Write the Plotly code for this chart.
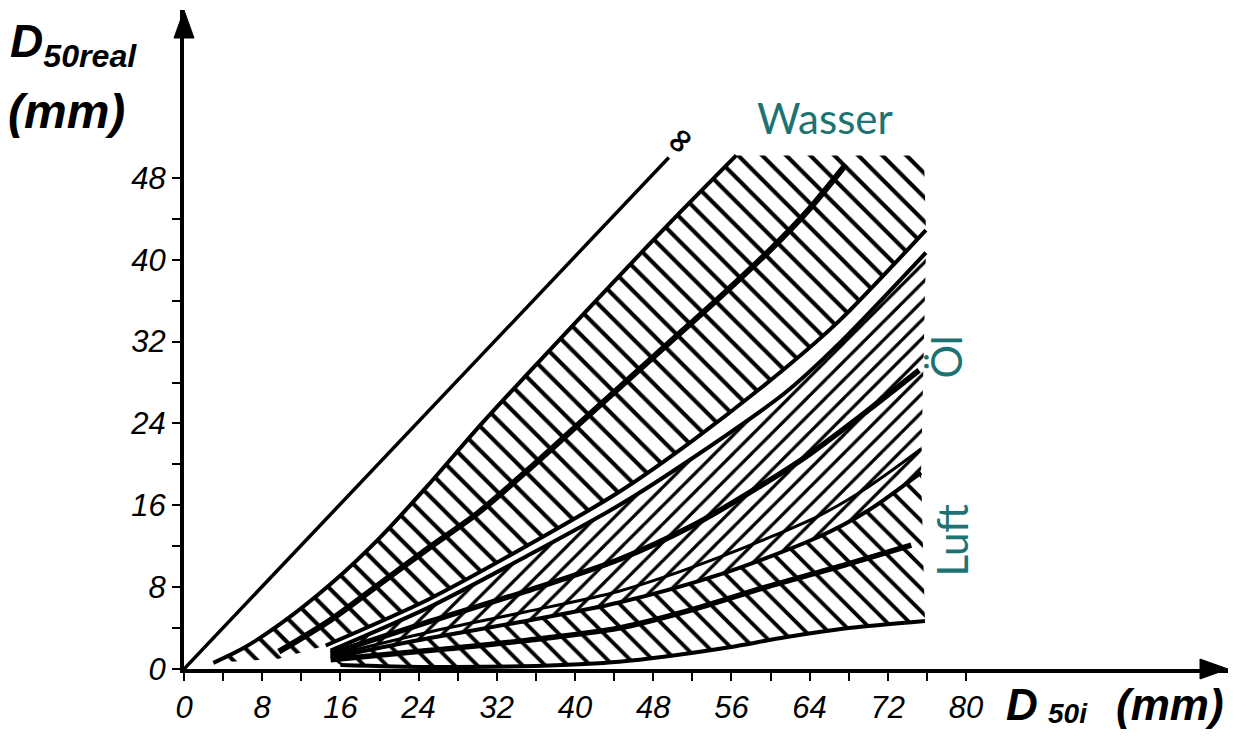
import plotly.graph_objects as go

# ---------------- data ----------------
x_ticks = [0, 8, 16, 24, 32, 40, 48, 56, 64, 72, 80]
y_ticks = [0, 8, 16, 24, 32, 40, 48]
x_minor = [4, 8, 12, 16, 20, 24, 28, 32, 36, 40, 44, 48, 52, 56, 60, 64, 68, 72, 76, 80]
y_minor = [4, 8, 12, 16, 20, 24, 28, 32, 36, 40, 44, 48]

inf_x = [0, 49.6]
inf_y = [0, 50.0]

wasser_upper_x = [3, 6, 10, 15, 20, 25, 30, 35, 40, 45, 50, 56.5]
wasser_upper_y = [0.6, 2.0, 4.5, 8.3, 12.8, 18.0, 23.5, 28.7, 33.8, 38.9, 43.9, 50.2]
wasser_mid_x = [9.7, 15, 20, 25, 30, 35, 40, 45, 50, 55, 60, 64, 67.7]
wasser_mid_y = [1.7, 4.8, 8.3, 11.8, 15.2, 19.3, 23.6, 27.9, 32.2, 36.5, 41.0, 45.0, 49.3]
wasser_lower_x = [14.5, 25, 35, 44.5, 52, 61.5, 67, 75.9]
wasser_lower_y = [2.3, 6.8, 12.0, 17.3, 22.3, 29.4, 34.0, 42.9]
wasser_top_y = 50.2
wasser_right_x = 75.7

ol_upper_x = [15, 25, 35, 44.5, 52, 61.5, 67, 75.9]
ol_upper_y = [1.8, 6.0, 11.0, 16.0, 20.6, 27.0, 31.8, 40.7]
ol_mid_x = [15, 25, 35, 44.5, 52, 58.8, 64, 70, 75.2]
ol_mid_y = [1.5, 4.6, 7.6, 10.7, 14.0, 17.8, 21.0, 25.3, 29.2]
ol_lower_x = [15, 25, 35, 44.5, 55, 65, 70, 75.4]
ol_lower_y = [1.3, 3.6, 5.6, 7.6, 11.0, 15.0, 17.8, 21.5]

luft_upper_x = [15, 25, 35, 44.5, 55, 64.9, 70, 75.4]
luft_upper_y = [1.1, 3.0, 4.7, 6.5, 9.3, 12.9, 15.5, 19.2]
luft_mid_x = [15, 25, 35, 44.5, 52, 59.5, 67, 74.4]
luft_mid_y = [0.9, 1.8, 2.8, 4.0, 5.8, 8.0, 10.0, 12.1]
luft_lower_x = [16, 25, 36, 44.5, 55, 61.5, 68, 75.8]
luft_lower_y = [0.4, 0.2, 0.3, 0.7, 2.0, 3.1, 4.0, 4.7]

TEAL = "#1d7372"
TICKFONT = "Liberation Sans, Arial, sans-serif"
TITLEFONT = "Liberation Sans, Arial, sans-serif"
LABELFONT = "Lato, Noto Sans, sans-serif"

fig = go.Figure()

# ---------------- hatched bands ----------------
def band(xs_up, ys_up, xs_lo, ys_lo, shape, size, sol):
    px = list(xs_up) + list(xs_lo[::-1])
    py = list(ys_up) + list(ys_lo[::-1])
    fig.add_trace(go.Scatter(
        x=px, y=py, mode="lines", fill="toself", line=dict(width=0),
        fillcolor="white",
        fillpattern=dict(shape=shape, size=size, solidity=sol,
                         fgcolor="black", bgcolor="white", fgopacity=1),
        hoverinfo="skip", showlegend=False))

w_up_x = wasser_upper_x + [wasser_right_x]
w_up_y = wasser_upper_y + [wasser_top_y]
w_lo_x = [3, 9.7] + wasser_lower_x
w_lo_y = [0.6, 1.0] + wasser_lower_y
band(w_up_x, w_up_y, w_lo_x, w_lo_y, "\\", 17, 0.24)
band(ol_upper_x, ol_upper_y, luft_upper_x, luft_upper_y, "/", 13, 0.25)
band(luft_upper_x, luft_upper_y, luft_lower_x, luft_lower_y, "\\", 16, 0.24)

# ---------------- curves ----------------
def curve(xs, ys, w):
    fig.add_trace(go.Scatter(x=xs, y=ys, mode="lines",
                             line=dict(color="black", width=w, shape="spline", smoothing=0.8),
                             hoverinfo="skip", showlegend=False))

curve(inf_x, inf_y, 3.5)
curve(wasser_upper_x, wasser_upper_y, 4)
curve(wasser_mid_x, wasser_mid_y, 6)
curve(wasser_lower_x, wasser_lower_y, 4)
curve(ol_upper_x, ol_upper_y, 4)
curve(ol_mid_x, ol_mid_y, 5.5)
curve(ol_lower_x, ol_lower_y, 3)
curve(luft_upper_x, luft_upper_y, 4)
curve(luft_mid_x, luft_mid_y, 5.5)
curve(luft_lower_x, luft_lower_y, 4)

# ---------------- layout ----------------
# the page adds an 8px body margin, so the figure is 16px smaller than the window
OFF = 8
W, H = 1239 - 2 * OFF, 737 - 2 * OFF
L, R, T, B = 176, 3, 2, 60
pw, ph = W - L - R, H - T - B

axis_common = dict(showline=True, linewidth=4, linecolor="black", showgrid=False,
                   zeroline=False, ticks="outside", ticklen=8, tickwidth=2,
                   tickcolor="black", ticklabelstandoff=0, automargin=False,
                   tickfont=dict(family=TICKFONT, size=31, style="italic", color="black"))

fig.update_layout(
    width=W, height=H,
    margin=dict(l=L, r=R, t=T, b=B, autoexpand=False),
    paper_bgcolor="white", plot_bgcolor="white",
    xaxis=dict(range=[0, pw / 9.775], tickmode="array", tickvals=x_ticks,
               ticktext=[str(v) for v in x_ticks],
               minor=dict(tickmode="array", tickvals=x_minor, ticks="outside", ticklen=8,
                          tickwidth=2, tickcolor="black"),
               **axis_common),
    yaxis=dict(range=[0, ph / 10.23], tickmode="array", tickvals=y_ticks,
               ticktext=[str(v) for v in y_ticks],
               minor=dict(tickmode="array", tickvals=y_minor, ticks="outside", ticklen=8,
                          tickwidth=2, tickcolor="black"),
               **axis_common),
)

# arrow heads of the axes (paper coordinates)
hl, hw = 28, 10
fig.add_shape(type="path", xref="paper", yref="paper",
              path=f"M {-hw/pw} {1-hl/ph} L {hw/pw} {1-hl/ph} L 0 1 Z",
              fillcolor="black", line=dict(color="black", width=1))
fig.add_shape(type="path", xref="paper", yref="paper",
              path=f"M {1-hl/pw} {hw/ph} L {1-hl/pw} {-hw/ph} L 1 0 Z",
              fillcolor="black", line=dict(color="black", width=1))

def px2paper(page_x, page_y):
    fx, fy = page_x - OFF, page_y - OFF
    return (fx - L) / pw, (H - B - fy) / ph

def title_text(text, page_x, page_y, size, xanchor="left"):
    ax_, ay_ = px2paper(page_x, page_y)
    fig.add_annotation(xref="paper", yref="paper", x=ax_, y=ay_, xanchor=xanchor,
                       yanchor="middle", text=text, showarrow=False,
                       font=dict(family=TITLEFONT, size=size, color="black"))

# y-axis title
title_text("<b><i>D<sub>50real</sub></i></b>", 8, 44, 46)
title_text("<b><i>(mm)</i></b>", 6, 111, 48)
# x-axis title (pieces placed separately so the subscript stays inside the page)
title_text("<b><i>D</i></b>", 1004, 704, 44)
title_text("<b><i>50i</i></b>", 1046, 713, 28)
title_text("<b><i>(mm)</i></b>", 1226, 704, 44, xanchor="right")

# labels inside the chart
fig.add_annotation(x=65.6, y=53.9, text="Wasser", showarrow=False,
                   font=dict(family=LABELFONT, size=42, color=TEAL))
fig.add_annotation(x=78.0, y=30.5, text="Öl", showarrow=False, textangle=-90,
                   font=dict(family=LABELFONT, size=42, color=TEAL))
fig.add_annotation(x=78.6, y=12.6, text="Luft", showarrow=False, textangle=-90,
                   font=dict(family=LABELFONT, size=42, color=TEAL))
fig.add_annotation(x=50.6, y=51.7, text="<b>∞</b>", showarrow=False, textangle=-50,
                   font=dict(family="DejaVu Sans", size=34, color="black"))

fig.write_html("out.html")
